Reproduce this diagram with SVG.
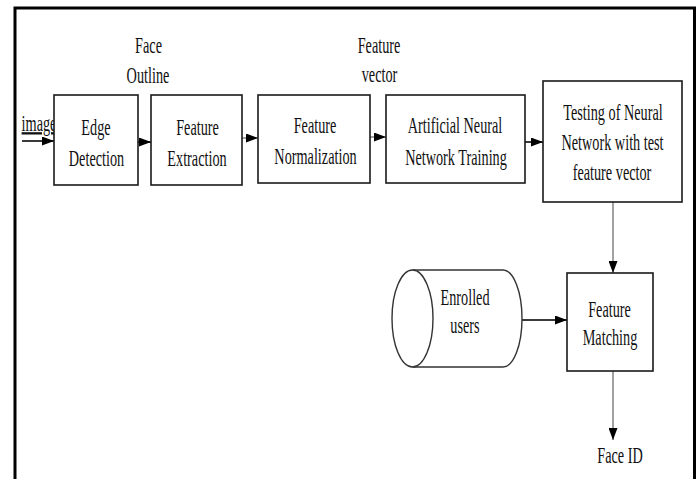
<svg xmlns="http://www.w3.org/2000/svg" width="700" height="479" viewBox="0 0 700 479">
<defs>
<style>
.box{fill:#fff;stroke:#1a1a1a;stroke-width:1.6}
.t{font-family:"Liberation Serif","Times New Roman",serif;font-size:23px;fill:#111;text-anchor:middle}
.c{fill:none;stroke:#3a3a3a;stroke-width:2}
.cg{fill:none;stroke:#8a8a8a;stroke-width:1.6}
</style>
<marker id="ah" viewBox="0 0 12 9" refX="12" refY="4.5" markerWidth="12" markerHeight="9" markerUnits="userSpaceOnUse" orient="auto">
<path d="M0,0 L12,4.5 L0,9 Z" fill="#000"/>
</marker>
</defs>
<rect width="700" height="479" fill="#fff"/>
<path d="M15,479 V8 H694.5 V479" fill="none" stroke="#000" stroke-width="3"/>

<g id="labels">
<text class="t" transform="translate(148.5,53) scale(0.62,1)">Face</text>
<text class="t" transform="translate(148,83) scale(0.62,1)">Outline</text>
<text class="t" transform="translate(379,53) scale(0.62,1)">Feature</text>
<text class="t" transform="translate(379.5,82) scale(0.62,1)">vector</text>
<text class="t" transform="translate(39,131) scale(0.62,1)" text-decoration="underline">image</text>
<text class="t" transform="translate(620,463) scale(0.62,1)">Face ID</text>
</g>

<g id="connectors">
<line class="c" x1="22" y1="141" x2="54" y2="141" marker-end="url(#ah)"/>
<line class="c" x1="138" y1="142" x2="151" y2="142" marker-end="url(#ah)"/>
<line class="cg" x1="242" y1="138" x2="258" y2="138" stroke-width="2.5" marker-end="url(#ah)"/>
<line class="cg" x1="370" y1="137" x2="386" y2="137" stroke-width="2.5" marker-end="url(#ah)"/>
<line class="c" x1="525" y1="142" x2="543" y2="142" marker-end="url(#ah)"/>
<line class="cg" x1="613" y1="202" x2="613" y2="273" marker-end="url(#ah)"/>
<line class="c" x1="522" y1="320" x2="567" y2="320" marker-end="url(#ah)"/>
<line class="cg" x1="613" y1="371" x2="613" y2="440" marker-end="url(#ah)"/>
</g>

<g id="edge-detection">
<rect class="box" x="54" y="95" width="84" height="90"/>
<text class="t" transform="translate(96,135) scale(0.62,1)">Edge</text>
<text class="t" transform="translate(96.5,166) scale(0.62,1)">Detection</text>
</g>

<g id="feature-extraction">
<rect class="box" x="151" y="95" width="91" height="90"/>
<text class="t" transform="translate(197.5,135) scale(0.62,1)">Feature</text>
<text class="t" transform="translate(197,166) scale(0.62,1)">Extraction</text>
</g>

<g id="feature-normalization">
<rect class="box" x="258" y="95" width="112" height="88"/>
<text class="t" transform="translate(315,133) scale(0.62,1)">Feature</text>
<text class="t" transform="translate(315.5,164) scale(0.62,1)">Normalization</text>
</g>

<g id="ann-training">
<rect class="box" x="386" y="95" width="139" height="88"/>
<text class="t" transform="translate(455,133) scale(0.62,1)">Artificial Neural</text>
<text class="t" transform="translate(456,165) scale(0.62,1)">Network Training</text>
</g>

<g id="testing">
<rect class="box" x="543" y="81" width="139" height="121"/>
<text class="t" transform="translate(613,120) scale(0.62,1)">Testing of Neural</text>
<text class="t" transform="translate(612.5,150) scale(0.62,1)">Network with test</text>
<text class="t" transform="translate(612,180) scale(0.62,1)">feature vector</text>
</g>

<g id="enrolled-users">
<path d="M412.5,270 H503 A19,48.5 0 0 1 503,367 H412.5" fill="#fff" stroke="#333" stroke-width="1.4"/>
<ellipse cx="412.5" cy="318.5" rx="20.5" ry="48.5" fill="#fff" stroke="#333" stroke-width="1.4"/>
<text class="t" transform="translate(465,305) scale(0.62,1)">Enrolled</text>
<text class="t" transform="translate(465,333) scale(0.62,1)">users</text>
</g>

<g id="feature-matching">
<rect class="box" x="567" y="273" width="86" height="98"/>
<text class="t" transform="translate(609.5,317) scale(0.62,1)">Feature</text>
<text class="t" transform="translate(610,345) scale(0.62,1)">Matching</text>
</g>
</svg>
